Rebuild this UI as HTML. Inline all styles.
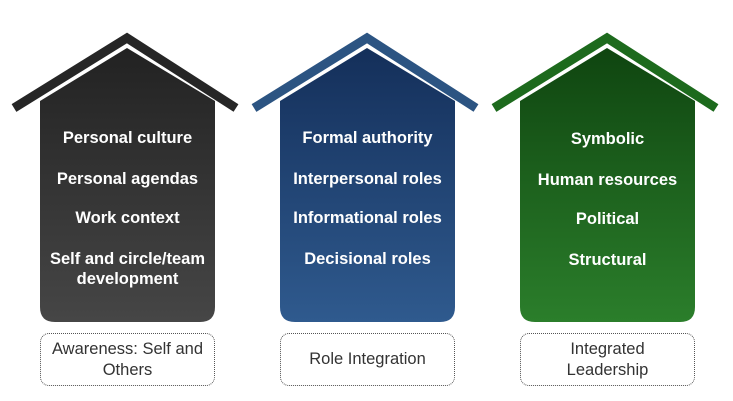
<!DOCTYPE html>
<html><head><style>
body{margin:0;width:733px;height:401px;background:#fff;overflow:hidden;position:relative;font-family:"Liberation Sans",Arial,sans-serif}
svg{position:absolute;left:0;top:0}
.t{position:absolute;width:175px;text-align:center;color:#fff;font-weight:bold;font-size:16.5px;line-height:20px}
.b{position:absolute;top:333px;width:173px;height:51px;border:1.5px dotted #555;border-radius:9px;display:flex;align-items:center;justify-content:center;text-align:center;color:#333;font-size:16.5px;line-height:21px}
</style></head><body>
<svg width="733" height="401">
<defs>
<linearGradient id="g1" x1="0" y1="0" x2="0" y2="1"><stop offset="0" stop-color="#222"/><stop offset="1" stop-color="#464646"/></linearGradient>
<linearGradient id="g2" x1="0" y1="0" x2="0" y2="1"><stop offset="0" stop-color="#142f5a"/><stop offset="1" stop-color="#2f5a8e"/></linearGradient>
<linearGradient id="g3" x1="0" y1="0" x2="0" y2="1"><stop offset="0" stop-color="#0f4510"/><stop offset="1" stop-color="#2b7e2b"/></linearGradient>
</defs>
<g>
<path d="M40,101 L127,48 L215,101 L215,307 Q215,322 200,322 L55,322 Q40,322 40,307 Z" fill="url(#g1)"/>
<polyline points="14,108 127,38 236,108" fill="none" stroke="#262626" stroke-width="9"/>
</g>
<g>
<path d="M280,101 L367,48 L455,101 L455,307 Q455,322 440,322 L295,322 Q280,322 280,307 Z" fill="url(#g2)"/>
<polyline points="254,108 367,38 476,108" fill="none" stroke="#2c5482" stroke-width="9"/>
</g>
<g>
<path d="M520,101 L607,48 L695,101 L695,307 Q695,322 680,322 L535,322 Q520,322 520,307 Z" fill="url(#g3)"/>
<polyline points="494,108 607,38 716,108" fill="none" stroke="#1d6a1d" stroke-width="9"/>
</g>
</svg>
<div class="t" style="left:40px;top:128px">Personal culture</div>
<div class="t" style="left:40px;top:169px">Personal agendas</div>
<div class="t" style="left:40px;top:208px">Work context</div>
<div class="t" style="left:40px;top:249px">Self and circle/team<br>development</div>
<div class="t" style="left:280px;top:128px">Formal authority</div>
<div class="t" style="left:280px;top:169px">Interpersonal roles</div>
<div class="t" style="left:280px;top:208px">Informational roles</div>
<div class="t" style="left:280px;top:249px">Decisional roles</div>
<div class="t" style="left:520px;top:129px">Symbolic</div>
<div class="t" style="left:520px;top:170px">Human resources</div>
<div class="t" style="left:520px;top:209px">Political</div>
<div class="t" style="left:520px;top:250px">Structural</div>
<div class="b" style="left:40px">Awareness: Self and<br>Others</div>
<div class="b" style="left:280px">Role Integration</div>
<div class="b" style="left:520px">Integrated<br>Leadership</div>
</body></html>
